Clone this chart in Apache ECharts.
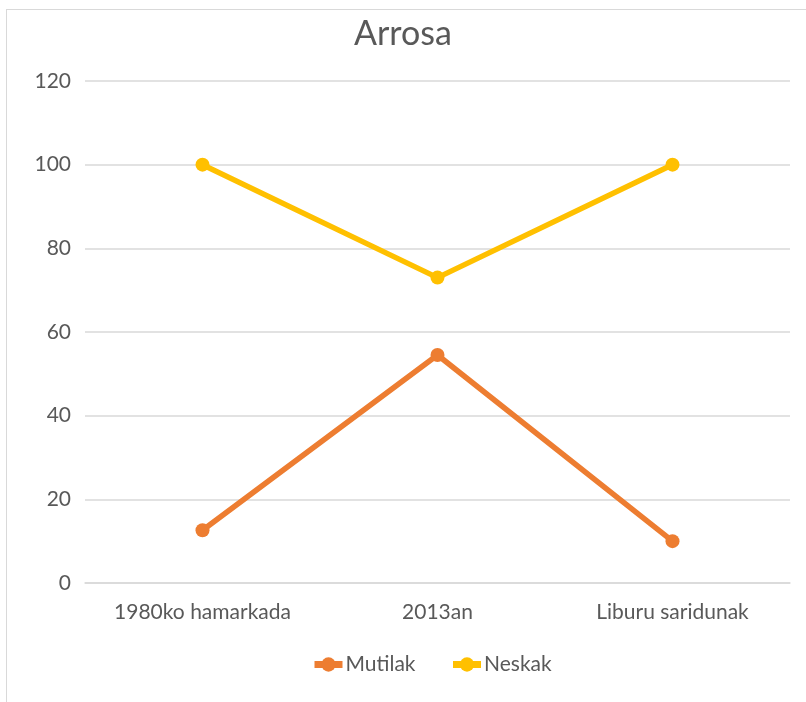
<!DOCTYPE html>
<html>
<head>
<meta charset="utf-8">
<script src="https://cdn.jsdelivr.net/npm/echarts@6/dist/echarts.min.js"></script>
<style>
  html, body { margin: 0; padding: 0; background: #fff; }
  #frame {
    position: absolute;
    left: 6px;
    top: 9px;
    width: 820px;
    height: 720px;
    border: 1px solid #d9d9d9;
  }
  #chart { position: absolute; left: 0; top: 0; width: 806px; height: 702px; }
</style>
</head>
<body>
<div id="frame"></div>
<div id="chart"></div>
<script>
const categories = ['1980ko hamarkada', '2013an', 'Liburu saridunak']
const mutilak = [12.6, 54.5, 10]
const neskak = [100, 73, 100]
const yTicks = { min: 0, max: 120, interval: 20 }

const myChart = echarts.init(document.getElementById('chart'))
const font = 'Lato, "Open Sans", sans-serif'

const option = {
  animation: false,
  title: {
    text: 'Arrosa',
    left: 'center',
    top: 12,
    textStyle: { fontFamily: font, fontSize: 34, fontWeight: 'normal', color: '#595959' }
  },
  legend: {
    bottom: 22,
    left: 306,
    itemWidth: 28,
    itemHeight: 18,
    itemGap: 34,
    lineStyle: { width: 7 },
    textStyle: { fontFamily: font, fontSize: 21, color: '#595959', padding: [0, 0, 0, -2] },
    data: ['Mutilak', 'Neskak']
  },
  grid: { left: 85, right: 16, top: 81, bottom: 119, containLabel: false },
  xAxis: {
    type: 'category',
    data: categories,
    boundaryGap: true,
    axisLine: { lineStyle: { color: '#d9d9d9', width: 1.5 } },
    axisTick: { show: false },
    axisLabel: { fontFamily: font, fontSize: 21, color: '#595959', margin: 19 }
  },
  yAxis: {
    type: 'value',
    min: yTicks.min,
    max: yTicks.max,
    interval: yTicks.interval,
    axisLine: { show: false },
    axisTick: { show: false },
    splitLine: { lineStyle: { color: '#d9d9d9', width: 1.5 } },
    axisLabel: { fontFamily: font, fontSize: 21, color: '#595959', margin: 14 }
  },
  series: [
    {
      name: 'Mutilak',
      type: 'line',
      data: mutilak,
      symbol: 'circle',
      symbolSize: 14,
      lineStyle: { color: '#ED7D31', width: 5.5 },
      itemStyle: { color: '#ED7D31' }
    },
    {
      name: 'Neskak',
      type: 'line',
      data: neskak,
      symbol: 'circle',
      symbolSize: 14,
      lineStyle: { color: '#FFC000', width: 5.5 },
      itemStyle: { color: '#FFC000' }
    }
  ]
}
myChart.setOption(option)
</script>
</body>
</html>
